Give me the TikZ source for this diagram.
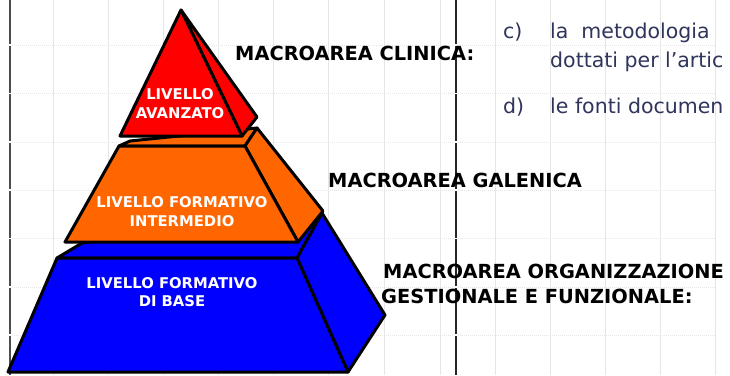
\documentclass[tikz,border=0pt]{standalone}
\usepackage{fontspec}
\setmainfont{DejaVu Sans}
\definecolor{bodyc}{HTML}{30355C}
\definecolor{gridc}{HTML}{E6E6E6}
\definecolor{pred}{HTML}{FF0000}
\definecolor{porange}{HTML}{FF6600}
\definecolor{pblue}{HTML}{0000FF}
\begin{document}
\begin{tikzpicture}[x=1pt,y=-1pt,
  face/.style={draw=black,line width=3pt,line join=round},
  lvl/.style={text=white,font=\bfseries\fontsize{14.8}{18.5}\selectfont,align=center,inner sep=0},
  area/.style={text=black,font=\bfseries\fontsize{19.4}{24}\selectfont,anchor=base west,inner sep=0},
  bodytxt/.style={text=bodyc,font=\fontsize{20.5}{24}\selectfont,anchor=base west,inner sep=0},
  gridh/.style={draw=gridc,line width=0.8pt,dash pattern=on 1pt off 1pt},
  gridv/.style={draw=gridc,line width=0.8pt},
  rule/.style={draw=black!85,line width=2pt}]
\useasboundingbox (0,0) rectangle (730,375);
\fill[white] (0,0) rectangle (730,375);
% grid
\foreach \x in {53,108,163,218,273,328,384,440,495,550,605,660,715}
  \draw[gridv] (\x,0) -- (\x,375);
\foreach \y in {45,93.5,142,190,238.5,287,335}
  \draw[gridh] (12,\y) -- (715,\y);
% black vertical rules with small notches
\draw[rule,draw=black!70] (10,0) -- (10,375);
\draw[rule] (456,0) -- (456,375);
\foreach \y in {45,93.5,142,190,238.5,287,335}{
  \draw[white,line width=1.2pt] (8,\y) -- (12,\y);
  \draw[white,line width=1.2pt] (454,\y) -- (458,\y);
}
% blue level
\draw[face,fill=pblue] (57,258) -- (82,243) -- (322,213) -- (297,258) -- cycle;
\draw[face,fill=pblue] (297,258) -- (322,213) -- (385,315) -- (348,372) -- cycle;
\draw[face,fill=pblue] (8,372) -- (348,372) -- (297,258) -- (57,258) -- cycle;
% orange level
\draw[face,fill=porange] (119,146) -- (130,141) -- (257,128) -- (245,146) -- cycle;
\draw[face,fill=porange] (245,146) -- (257,128) -- (323,211) -- (298,242) -- cycle;
\draw[face,fill=porange] (65,242) -- (298,242) -- (245,146) -- (119,146) -- cycle;
% red level
\draw[face,fill=pred] (181,10) -- (257,117) -- (242,136) -- cycle;
\draw[face,fill=pred] (181,10) -- (120,136) -- (242,136) -- cycle;
% level texts
\node[lvl] (avanzato) at (180,103.5) {LIVELLO\\AVANZATO};
\node[lvl] (intermedio) at (182,211.5) {LIVELLO FORMATIVO\\INTERMEDIO};
\node[lvl] (base) at (172,292) {LIVELLO FORMATIVO\\DI BASE};
% macroarea labels
\node[area] (clinica) at (235,60) {MACROAREA CLINICA:};
\node[area] (galenica) at (328,187) {MACROAREA GALENICA};
\node[area] (org1) at (383,278) {MACROAREA ORGANIZZAZIONE};
\node[area] (org2) at (381,303) {GESTIONALE E FUNZIONALE:};
% body text
\node[bodytxt] (c) at (503,38) {c)};
\node[bodytxt] (c1) at (550,38) {la\ \ metodologia};
\node[bodytxt] (c2) at (550,67) {dottati per l’artic};
\node[bodytxt] (d) at (503,113) {d)};
\node[bodytxt] (d1) at (550,113) {le fonti documen};
\end{tikzpicture}
\end{document}
